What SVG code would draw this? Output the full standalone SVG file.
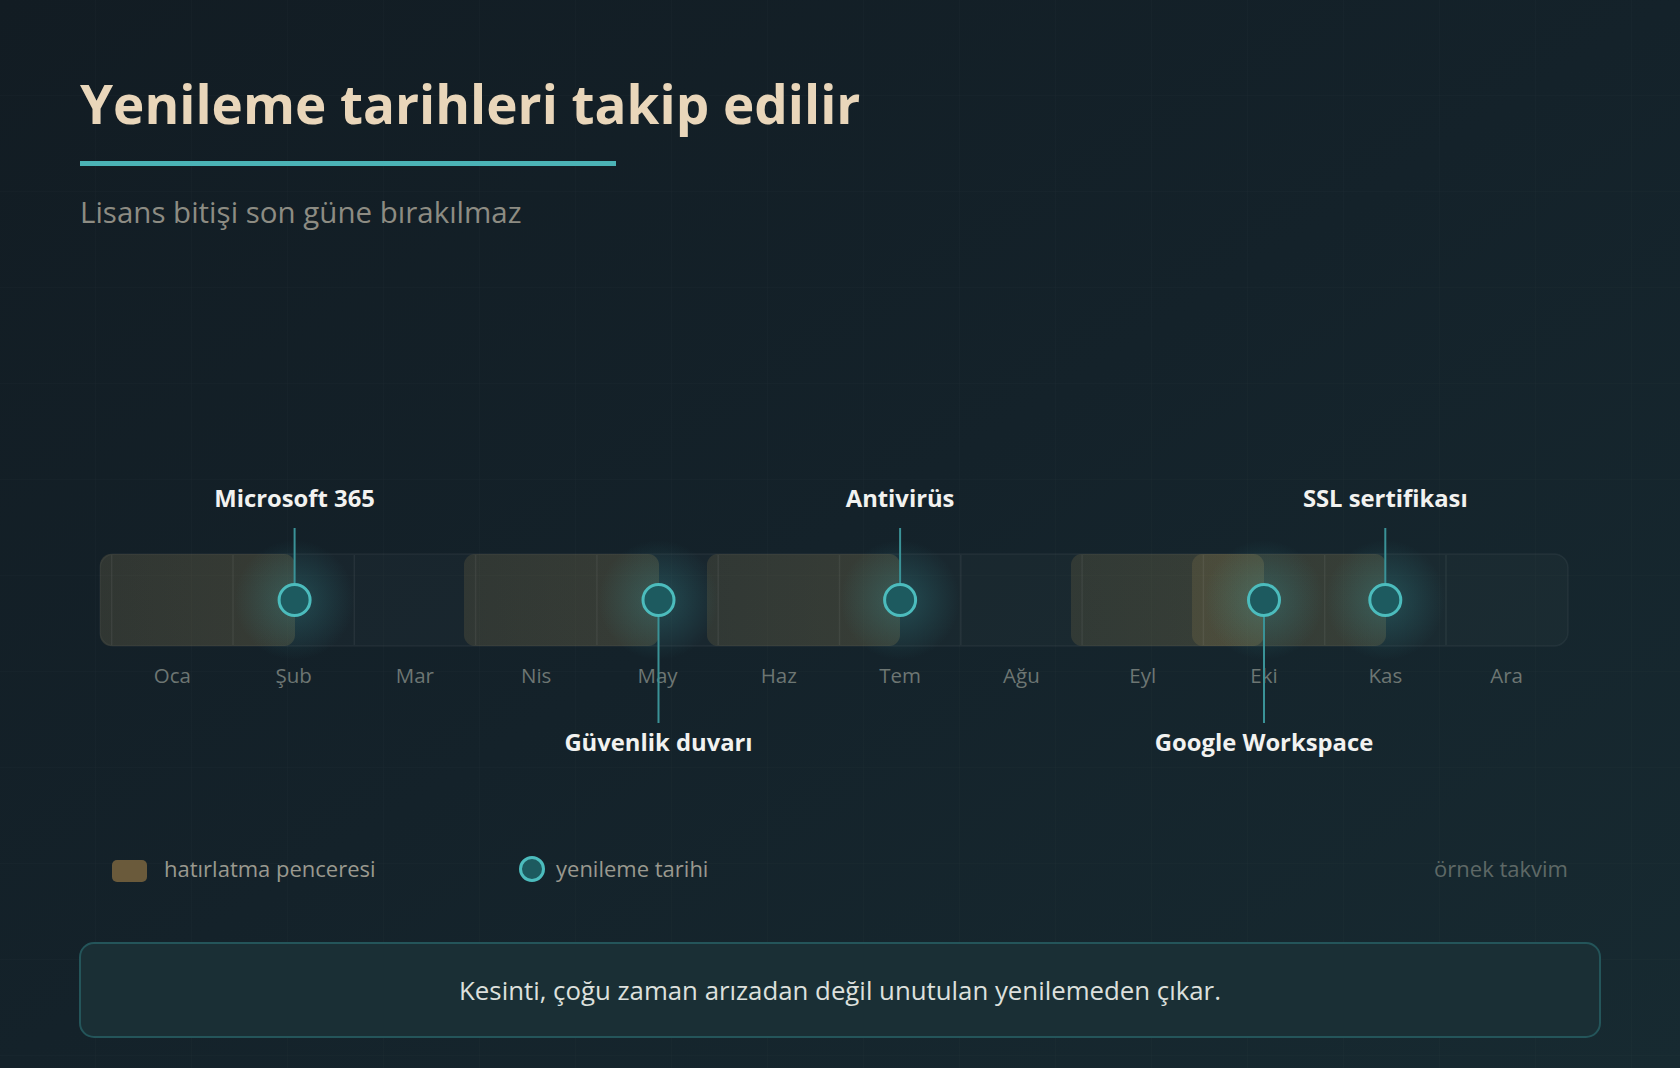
<svg xmlns="http://www.w3.org/2000/svg" width="1680" height="1068" viewBox="0 0 1680 1068">
  <defs>
    <linearGradient id="bg" x1="0" y1="0" x2="1" y2="1">
      <stop offset="0" stop-color="#121c23"/>
      <stop offset="0.5" stop-color="#14222a"/>
      <stop offset="1" stop-color="#172a31"/>
    </linearGradient>
    <pattern id="grid" width="96" height="96" patternUnits="userSpaceOnUse">
      <path d="M96 0 V96 M0 96 H96" fill="none" stroke="#ffffff" stroke-opacity="0.025" stroke-width="1"/>
    </pattern>
    <radialGradient id="glow">
      <stop offset="0" stop-color="#3fb4b8" stop-opacity="0.26"/>
      <stop offset="1" stop-color="#3fb4b8" stop-opacity="0"/>
    </radialGradient>
    <linearGradient id="win" x1="0" y1="0" x2="1" y2="0">
      <stop offset="0" stop-color="#b99a55" stop-opacity="0.15"/>
      <stop offset="1" stop-color="#b99a55" stop-opacity="0.19"/>
    </linearGradient>
    <style>
      .title { font-family: "Open Sans", "Noto Sans", sans-serif; font-weight: 700; font-size: 53px; fill: #e9d6ba; }
      .sub { font-family: "Open Sans", "Noto Sans", sans-serif; font-size: 29.5px; fill: #8d8c83; }
      .lbl { font-family: "Open Sans", "Noto Sans", sans-serif; font-weight: 700; font-size: 23.8px; fill: #f2f2f0; text-anchor: middle; }
      .mon { font-family: "Open Sans", "Noto Sans", sans-serif; font-size: 20.5px; fill: #6d7673; text-anchor: middle; }
      .leg { font-family: "Open Sans", "Noto Sans", sans-serif; font-size: 22px; fill: #9a998f; }
      .note { font-family: "Open Sans", "Noto Sans", sans-serif; font-size: 22px; fill: #5e6866; text-anchor: end; }
      .foot { font-family: "Open Sans", "Noto Sans", sans-serif; font-size: 25.8px; fill: #dde0dd; text-anchor: middle; }
      .sep { stroke: #ffffff; stroke-opacity: 0.06; stroke-width: 1.5; }
      .win { fill: url(#win); }
      .dot { fill: #1d5a5f; stroke: #4cbcbd; stroke-width: 3; }
      .conn { stroke: #3a9297; stroke-width: 2; fill: none; }
    </style>
  </defs>

  <rect width="1680" height="1068" fill="url(#bg)"/>
  <rect width="1680" height="1068" fill="url(#grid)"/>

  <g id="header">
    <text class="title" x="80" y="124">Yenileme tarihleri takip edilir</text>
    <rect x="80" y="161" width="536" height="5" fill="#4bb3b6"/>
    <text class="sub" x="80" y="223">Lisans bitişi son güne bırakılmaz</text>
  </g>

  <g id="timeline">
    <rect x="100" y="554" width="1468" height="92" rx="14" fill="#ffffff" fill-opacity="0.025" stroke="#ffffff" stroke-opacity="0.05" stroke-width="1.5"/>
    <g id="windows">
      <rect class="win" x="100" y="554" width="195" height="92" rx="11"/>
      <rect class="win" x="464" y="554" width="195" height="92" rx="11"/>
      <rect class="win" x="707" y="554" width="193" height="92" rx="11"/>
      <rect class="win" x="1071" y="554" width="193" height="92" rx="11"/>
      <rect class="win" x="1192" y="554" width="194" height="92" rx="11"/>
    </g>
    <g id="separators">
      <line class="sep" x1="111.7" y1="555" x2="111.7" y2="645"/>
      <line class="sep" x1="233" y1="555" x2="233" y2="645"/>
      <line class="sep" x1="354.3" y1="555" x2="354.3" y2="645"/>
      <line class="sep" x1="475.6" y1="555" x2="475.6" y2="645"/>
      <line class="sep" x1="596.9" y1="555" x2="596.9" y2="645"/>
      <line class="sep" x1="718.2" y1="555" x2="718.2" y2="645"/>
      <line class="sep" x1="839.5" y1="555" x2="839.5" y2="645"/>
      <line class="sep" x1="960.8" y1="555" x2="960.8" y2="645"/>
      <line class="sep" x1="1082.1" y1="555" x2="1082.1" y2="645"/>
      <line class="sep" x1="1203.4" y1="555" x2="1203.4" y2="645"/>
      <line class="sep" x1="1324.7" y1="555" x2="1324.7" y2="645"/>
      <line class="sep" x1="1446" y1="555" x2="1446" y2="645"/>
    </g>
    <g id="glows">
      <circle cx="294.6" cy="600" r="60" fill="url(#glow)"/>
      <circle cx="658.5" cy="600" r="60" fill="url(#glow)"/>
      <circle cx="900.1" cy="600" r="60" fill="url(#glow)"/>
      <circle cx="1264" cy="600" r="60" fill="url(#glow)"/>
      <circle cx="1385.3" cy="600" r="60" fill="url(#glow)"/>
    </g>
    <g id="months">
      <text class="mon" x="172.3" y="683">Oca</text>
      <text class="mon" x="293.6" y="683">Şub</text>
      <text class="mon" x="414.9" y="683">Mar</text>
      <text class="mon" x="536.2" y="683">Nis</text>
      <text class="mon" x="657.5" y="683">May</text>
      <text class="mon" x="778.8" y="683">Haz</text>
      <text class="mon" x="900.1" y="683">Tem</text>
      <text class="mon" x="1021.4" y="683">Ağu</text>
      <text class="mon" x="1142.7" y="683">Eyl</text>
      <text class="mon" x="1264" y="683">Eki</text>
      <text class="mon" x="1385.3" y="683">Kas</text>
      <text class="mon" x="1506.6" y="683">Ara</text>
    </g>
  </g>

  <g id="connectors">
    <line class="conn" x1="294.6" y1="528" x2="294.6" y2="584"/>
    <line class="conn" x1="658.5" y1="616" x2="658.5" y2="723"/>
    <line class="conn" x1="900.1" y1="528" x2="900.1" y2="584"/>
    <line class="conn" x1="1264" y1="616" x2="1264" y2="723"/>
    <line class="conn" x1="1385.3" y1="528" x2="1385.3" y2="584"/>
  </g>

  <g id="node-microsoft365">
    <circle class="dot" cx="294.6" cy="600" r="15.5"/>
    <text class="lbl" x="294.6" y="507">Microsoft 365</text>
  </g>
  <g id="node-guvenlik">
    <circle class="dot" cx="658.5" cy="600" r="15.5"/>
    <text class="lbl" x="658.5" y="751">Güvenlik duvarı</text>
  </g>
  <g id="node-antivirus">
    <circle class="dot" cx="900.1" cy="600" r="15.5"/>
    <text class="lbl" x="900.1" y="507">Antivirüs</text>
  </g>
  <g id="node-google">
    <circle class="dot" cx="1264" cy="600" r="15.5"/>
    <text class="lbl" x="1264" y="751">Google Workspace</text>
  </g>
  <g id="node-ssl">
    <circle class="dot" cx="1385.3" cy="600" r="15.5"/>
    <text class="lbl" x="1385.3" y="507">SSL sertifikası</text>
  </g>

  <g id="legend">
    <rect x="112" y="860" width="35" height="22" rx="5" fill="#6a5a3b"/>
    <text class="leg" x="164" y="877">hatırlatma penceresi</text>
    <circle class="dot" cx="532" cy="869" r="11.5"/>
    <text class="leg" x="556" y="877">yenileme tarihi</text>
    <text class="note" x="1568" y="877">örnek takvim</text>
  </g>

  <g id="footer">
    <rect x="80" y="943" width="1520" height="94" rx="14" fill="#1a2f35" stroke="#24555a" stroke-width="2"/>
    <text class="foot" x="840" y="1000">Kesinti, çoğu zaman arızadan değil unutulan yenilemeden çıkar.</text>
  </g>
</svg>
